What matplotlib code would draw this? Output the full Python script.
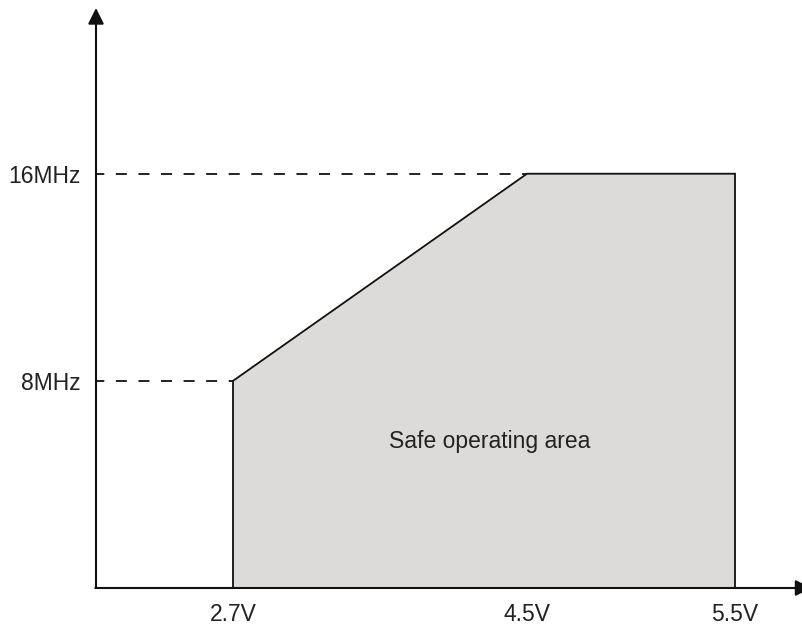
import matplotlib.pyplot as plt
import numpy as np

plt.rcParams['font.family'] = ['Liberation Sans', 'DejaVu Sans']

# operating limits (schematic)
voltages = [2.7, 4.5, 5.5]          # V
v_labels = ['2.7V', '4.5V', '5.5V']
freqs = [8, 16]                     # MHz
f_labels = ['8MHz', '16MHz']

# boundary of the safe operating area
area_v = [2.7, 2.7, 4.5, 5.5, 5.5]
area_f = [0, 8, 16, 16, 0]

# voltage axis is not to scale in the drawing -> piecewise scale
x_knots = [0, 2.7, 4.5, 5.5, 6.6]
x_pix = [0, 137, 431, 639, 707]

def xf(v):
    return np.interp(v, x_knots, x_pix)

def xi(p):
    return np.interp(p, x_pix, x_knots)

fig = plt.figure(figsize=(8.03, 6.25), dpi=100)
ax = fig.add_axes([96 / 803, 37 / 625, 707 / 803, 580 / 625])
ax.set_xscale('function', functions=(xf, xi))
ax.set_xlim(0, 6.6)
ax.set_ylim(0, 22.4)

ax.fill(area_v, area_f, facecolor='#dcdbda', edgecolor='#111111', lw=1.3,
        joinstyle='miter', zorder=2)

# dashed guides from the y axis
ax.plot([0, voltages[0]], [freqs[0], freqs[0]], color='#111111', lw=1.3,
        linestyle=(1.5, (6.1, 6.4)), zorder=1)
ax.plot([0, voltages[1]], [freqs[1], freqs[1]], color='#111111', lw=1.3,
        linestyle=(1.5, (6.1, 6.4)), zorder=1)

ax.text(4.27, 5.67, 'Safe operating area',
        ha='center', va='center', fontsize=16.5, color='#222222')

for s in ax.spines.values():
    s.set_visible(False)

# axes with arrow heads
ax.annotate('', xy=(0, 1.0), xytext=(0, 0), xycoords='axes fraction',
            arrowprops=dict(arrowstyle='-|>', color='#111111', lw=1.5,
                            mutation_scale=24, shrinkA=0, shrinkB=0), zorder=5)
ax.annotate('', xy=(1.012, 0), xytext=(-0.001, 0), xycoords='axes fraction',
            arrowprops=dict(arrowstyle='-|>', color='#111111', lw=1.5,
                            mutation_scale=24, shrinkA=0, shrinkB=0), zorder=5)

ax.set_xticks(voltages)
ax.set_xticklabels(v_labels)
ax.set_yticks(freqs)
ax.set_yticklabels(f_labels)
ax.tick_params(axis='x', length=0, pad=11, labelsize=16.5, labelcolor='#222222')
ax.tick_params(axis='y', length=0, pad=11, labelsize=16.5, labelcolor='#222222')
ax.minorticks_off()

fig.savefig('out.png', dpi=100)
